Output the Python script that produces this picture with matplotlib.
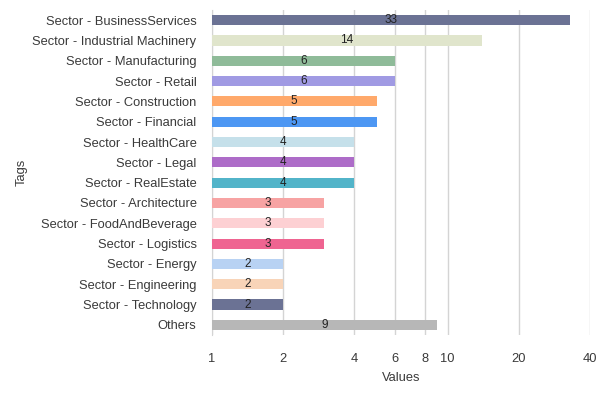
import numpy as np
import matplotlib
matplotlib.use("Agg")
import matplotlib.pyplot as plt

categories = ["Sector - BusinessServices", "Sector - Industrial Machinery", "Sector - Manufacturing",
              "Sector - Retail", "Sector - Construction", "Sector - Financial", "Sector - HealthCare",
              "Sector - Legal", "Sector - RealEstate", "Sector - Architecture", "Sector - FoodAndBeverage",
              "Sector - Logistics", "Sector - Energy", "Sector - Engineering", "Sector - Technology", "Others"]
values = [33, 14, 6, 6, 5, 5, 4, 4, 4, 3, 3, 3, 2, 2, 2, 9]
colors = ["#6b7294", "#e0e5cc", "#8fbb99", "#a09ae3", "#ffa96b", "#4d97f3", "#c5e0ea", "#ad6cc8",
          "#52b4c9", "#f7a3a3", "#fdd0d3", "#ef6491", "#b8d2f3", "#f8d4b8", "#6b7294", "#b7b7b7"]
xticks = [1, 2, 4, 6, 8, 10, 20, 40]

plt.rcParams['font.family'] = ['Liberation Sans', 'DejaVu Sans']
fig = plt.figure(figsize=(6, 4), dpi=100)
ax = fig.add_axes([0.353, 0.1625, 0.63, 0.8125])
y = np.arange(len(categories))
ax.barh(y, values, left=0, height=0.5, color=colors, zorder=3)
ax.set_xscale('log')
ax.set_xlim(1, 40)
ax.set_ylim(len(categories) - 0.5, -0.5)
ax.set_yticks(y)
ax.set_yticklabels(categories, fontsize=9.3, color="#3a3a3a")
ax.set_xticks(xticks)
ax.set_xticklabels([str(t) for t in xticks], fontsize=9.3, color="#3a3a3a")
ax.xaxis.set_minor_locator(matplotlib.ticker.NullLocator())
ax.tick_params(axis='x', length=0, pad=13)
ax.tick_params(axis='y', length=0, pad=11)
ax.grid(axis='x', color="#d4d4d4", linewidth=1, zorder=0)
for s in ['top', 'right', 'bottom']:
    ax.spines[s].set_visible(False)
ax.spines['left'].set_color("#d4d4d4")
for yi, v in zip(y, values):
    ax.text(np.sqrt(v), yi, str(v), ha='center', va='center', fontsize=8.5, color="#222222", zorder=4)
ax.set_xlabel("Values", fontsize=9.3, color="#3a3a3a", labelpad=5)
ax.set_ylabel("Tags", fontsize=9.3, color="#3a3a3a")
ax.yaxis.set_label_coords(-0.487, 0.5)
fig.savefig("out.png", dpi=100)
